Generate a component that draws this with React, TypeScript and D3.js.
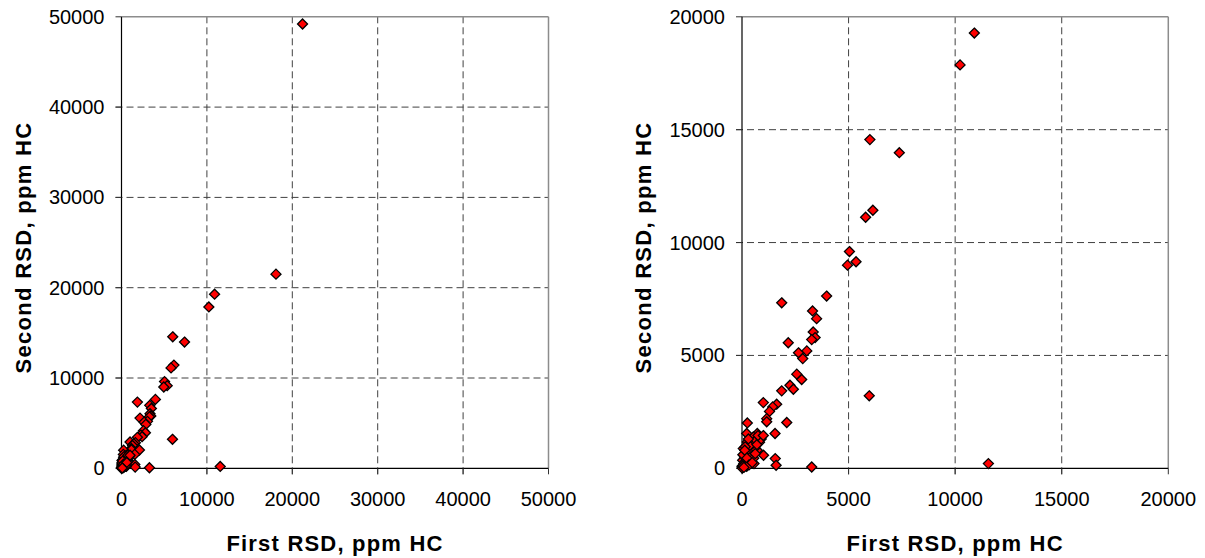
import React from "react";
import * as d3 from "d3";

// Data (ppm HC)
const firstRSD: number[] = [
  21200, 18090, 10900, 10230, 6000, 7380, 6140, 5800, 5040, 5350, 4950, 3970,
  1863, 3310, 3500, 3340, 3430, 3270, 2170, 3040, 2650, 2850, 2570, 2800,
  2250, 2410, 1863, 5970, 1000, 1627, 1440, 1290, 1158, 1158, 2100, 1550,
  250, 221, 718, 531, 820, 249, 61, 484, 718, 1010, 408, 1560,
  1600, 3271, 11560, 221, 563, 30, 0,
  50, 100, 150, 200, 300, 350, 250, 400, 120, 80, 180, 450, 600, 500, 350,
  650, 700, 150, 300, 20, 10, 60, 280, 420, 550, 900, 750, 1000, 40, 130,
  230, 330, 480, 620, 90,
];
const secondRSD: number[] = [
  49200, 21500, 19280, 17870, 14560, 13980, 11430, 11120, 9600, 9150, 9000, 7630,
  7330, 6970, 6630, 6040, 5790, 5700, 5560, 5200, 5115, 4860, 4170, 3930,
  3680, 3500, 3430, 3210, 2910, 2840, 2720, 2520, 2200, 2060, 2030, 1540,
  2010, 1540, 1540, 1390, 1150, 1166, 872, 872, 798, 577, 576, 430,
  133, 58, 208, 89, 208, 355, 89,
  50, 150, 300, 250, 400, 600, 700, 350, 500, 200, 120, 700, 900, 1100, 1000,
  1250, 1050, 950, 1300, 30, 10, 100, 180, 520, 450, 1300, 1450, 1450, 600, 800,
  450, 150, 250, 650, 40,
];

const leftTicks: number[] = [0, 10000, 20000, 30000, 40000, 50000];
const rightTicks: number[] = [0, 5000, 10000, 15000, 20000];

const xTitle = "First RSD, ppm HC";
const yTitle = "Second RSD, ppm HC";

type PanelProps = {
  x0: number;
  x1: number;
  y0: number;
  y1: number;
  max: number;
  ticks: number[];
};

const FONT = "Arial, 'Liberation Sans', sans-serif";

function Panel({ x0, x1, y0, y1, max, ticks }: PanelProps) {
  const xs = d3.scaleLinear().domain([0, max]).range([x0, x1]);
  const ys = d3.scaleLinear().domain([0, max]).range([y0, y1]);
  const pts = firstRSD
    .map((v, i) => ({ x: v, y: secondRSD[i] }))
    .filter((p) => p.x <= max && p.y <= max);
  const diamond = "M0,-5L5,0L0,5L-5,0Z";
  const grid = ticks.filter((t) => t > 0 && t < max);
  const midX = (x0 + x1) / 2;
  const midY = (y0 + y1) / 2 + 5;
  return (
    <g>
      {grid.map((t) => (
        <line
          key={"gx" + t}
          x1={xs(t)}
          x2={xs(t)}
          y1={y0 + 6}
          y2={y1}
          stroke="#404040"
          strokeWidth={1}
          strokeDasharray="7,4"
        />
      ))}
      {grid.map((t) => (
        <line
          key={"gy" + t}
          x1={x0 - 6}
          x2={x1}
          y1={ys(t)}
          y2={ys(t)}
          stroke="#404040"
          strokeWidth={1}
          strokeDasharray="7,4"
        />
      ))}
      <line x1={x0} x2={x1} y1={y1} y2={y1} stroke="#8c8c8c" strokeWidth={1.5} />
      <line x1={x1} x2={x1} y1={y1} y2={y0} stroke="#8c8c8c" strokeWidth={1.5} />
      <line x1={x0} x2={x1} y1={y0} y2={y0} stroke="#000" strokeWidth={1.2} />
      <line x1={x0} x2={x0} y1={y0} y2={y1} stroke="#000" strokeWidth={1.2} />
      {ticks.map((t) => (
        <line key={"tx" + t} x1={xs(t)} x2={xs(t)} y1={y0} y2={y0 + 6} stroke="#333" />
      ))}
      {ticks.map((t) => (
        <line key={"ty" + t} x1={x0 - 6} x2={x0} y1={ys(t)} y2={ys(t)} stroke="#333" />
      ))}
      {ticks.map((t) => (
        <text
          key={"lx" + t}
          x={xs(t)}
          y={y0 + 37.5}
          textAnchor="middle"
          fontFamily={FONT}
          fontSize={20}
          fill="#000"
        >
          {t}
        </text>
      ))}
      {ticks.map((t) => (
        <text
          key={"ly" + t}
          x={x0 - 17}
          y={ys(t)}
          dy="0.35em"
          textAnchor="end"
          fontFamily={FONT}
          fontSize={20}
          fill="#000"
        >
          {t}
        </text>
      ))}
      {pts.map((p, i) => (
        <path
          key={"p" + i}
          d={diamond}
          transform={`translate(${xs(p.x)},${ys(p.y)})`}
          fill="#ff0000"
          stroke="#000"
          strokeWidth={1.3}
        />
      ))}
      <text
        x={midX}
        y={551}
        textAnchor="middle"
        fontFamily={FONT}
        fontWeight="bold"
        fontSize={22}
        letterSpacing={1.2}
        fill="#000"
      >
        {xTitle}
      </text>
      <text
        transform={`translate(${x0 - 91},${midY}) rotate(-90)`}
        textAnchor="middle"
        fontFamily={FONT}
        fontWeight="bold"
        fontSize={22}
        letterSpacing={1.3}
        fill="#000"
      >
        {yTitle}
      </text>
    </g>
  );
}

export default function App() {
  return (
    <svg
      width={1205}
      height={558}
      style={{ position: "absolute", left: 0, top: 0, background: "#fff" }}
    >
      <rect x={0} y={0} width={1205} height={558} fill="#fff" />
      <Panel x0={121.5} x1={548.5} y0={468.3} y1={16.8} max={50000} ticks={leftTicks} />
      <Panel x0={742} x1={1168.3} y0={468.3} y1={16.8} max={20000} ticks={rightTicks} />
    </svg>
  );
}
